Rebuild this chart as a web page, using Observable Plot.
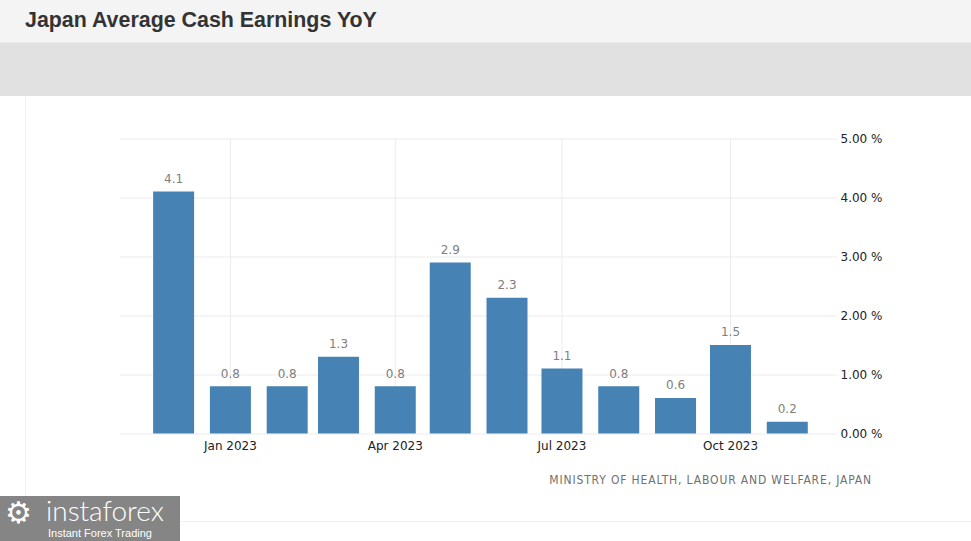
<!DOCTYPE html>
<html>
<head>
<meta charset="utf-8">
<script src="https://cdn.jsdelivr.net/npm/d3@7"></script>
<script src="https://cdn.jsdelivr.net/npm/@observablehq/plot@0.6"></script>
<style>
  html, body { margin: 0; padding: 0; background: #fff; }
  body { width: 971px; height: 541px; position: relative; overflow: hidden; font-family: "DejaVu Sans", sans-serif; }
  #header { position: absolute; left: 0; top: 0; width: 971px; height: 42px; background: #f4f4f4; border-bottom: 1px solid #ececec; }
  #title { position: absolute; left: 25px; top: 8px; font: bold 21.4px "Liberation Sans", Arial, sans-serif; color: #333; line-height: 24px; }
  #band { position: absolute; left: 0; top: 43px; width: 971px; height: 53px; background: #e1e1e1; }
  #vline { position: absolute; left: 25px; top: 96px; width: 1px; height: 425px; background: #f0f0f0; }
  #hline { position: absolute; left: 25px; top: 521px; width: 946px; height: 1px; background: #f0f0f0; }
  #chart { position: absolute; left: 0; top: 96px; }
  #source { position: absolute; right: 99px; top: 473px; font: 12px "DejaVu Sans Condensed", "DejaVu Sans", sans-serif; color: #707070; letter-spacing: 0.85px; }
  #logo { position: absolute; left: 0; top: 496px; width: 180px; height: 45px; background: #858585; color: #fff; }
  #logo .gear { position: absolute; left: 5px; top: 0px; font: 30px "DejaVu Sans", sans-serif; line-height: 34px; }
  #logo .name { position: absolute; left: 46px; top: 1px; font: 300 28px Lato, "Open Sans", sans-serif; line-height: 26px; letter-spacing: 0px; }
  #logo .tag { position: absolute; left: 48px; top: 31px; font: 11px "Liberation Sans", Arial, sans-serif; line-height: 12px; }
</style>
</head>
<body>
<div id="header"><div id="title">Japan Average Cash Earnings YoY</div></div>
<div id="band"></div>
<div id="vline"></div>
<div id="hline"></div>
<div id="chart"></div>
<div id="source">MINISTRY OF HEALTH, LABOUR AND WELFARE, JAPAN</div>
<div id="logo"><span class="gear">⚙</span><span class="name">instaforex</span><span class="tag">Instant Forex Trading</span></div>
<script>
// Data
const months = ["2022-12-01","2023-01-01","2023-02-01","2023-03-01","2023-04-01","2023-05-01",
                "2023-06-01","2023-07-01","2023-08-01","2023-09-01","2023-10-01","2023-11-01"];
const values = [4.1, 0.8, 0.8, 1.3, 0.8, 2.9, 2.3, 1.1, 0.8, 0.6, 1.5, 0.2];
const xTicks = ["2023-01-01","2023-04-01","2023-07-01","2023-10-01"];
const yTicks = [0, 1, 2, 3, 4, 5];

const data = months.map((m, i) => ({date: new Date(m + "T00:00:00Z"), value: values[i]}));
const xTickDates = xTicks.map(d => new Date(d + "T00:00:00Z"));

const chart = Plot.plot({
  width: 971,
  height: 380,
  marginLeft: 120,
  marginRight: 134,
  marginTop: 42.5,
  marginBottom: 42.5,
  style: {fontFamily: "'DejaVu Sans', sans-serif", fontSize: "12px", background: "transparent"},
  x: {type: "utc", domain: [new Date("2022-11-02T00:00:00Z"), new Date("2023-11-28T10:00:00Z")]},
  y: {domain: [0, 5]},
  marks: [
    Plot.gridY(yTicks, {stroke: "#ececec", strokeOpacity: 1}),
    Plot.gridX(xTickDates, {stroke: "#ececec", strokeOpacity: 1}),
    Plot.ruleX(data, {x: "date", y1: 0, y2: "value", stroke: "#4682b4", strokeWidth: 41}),
    Plot.text(data, {x: "date", y: "value", text: d => d.value.toFixed(1), dy: -13, fill: "#808080", fontSize: 12}),
    Plot.axisX(xTickDates, {tickSize: 0, tickPadding: 7, tickFormat: d3.utcFormat("%b %Y"), fill: "#222", label: null}),
    Plot.axisY(yTicks, {anchor: "right", tickSize: 0, tickPadding: 3, tickFormat: d => d.toFixed(2) + " %", fill: "#222", label: null})
  ]
});
document.getElementById("chart").appendChild(chart);
</script>
</body>
</html>
